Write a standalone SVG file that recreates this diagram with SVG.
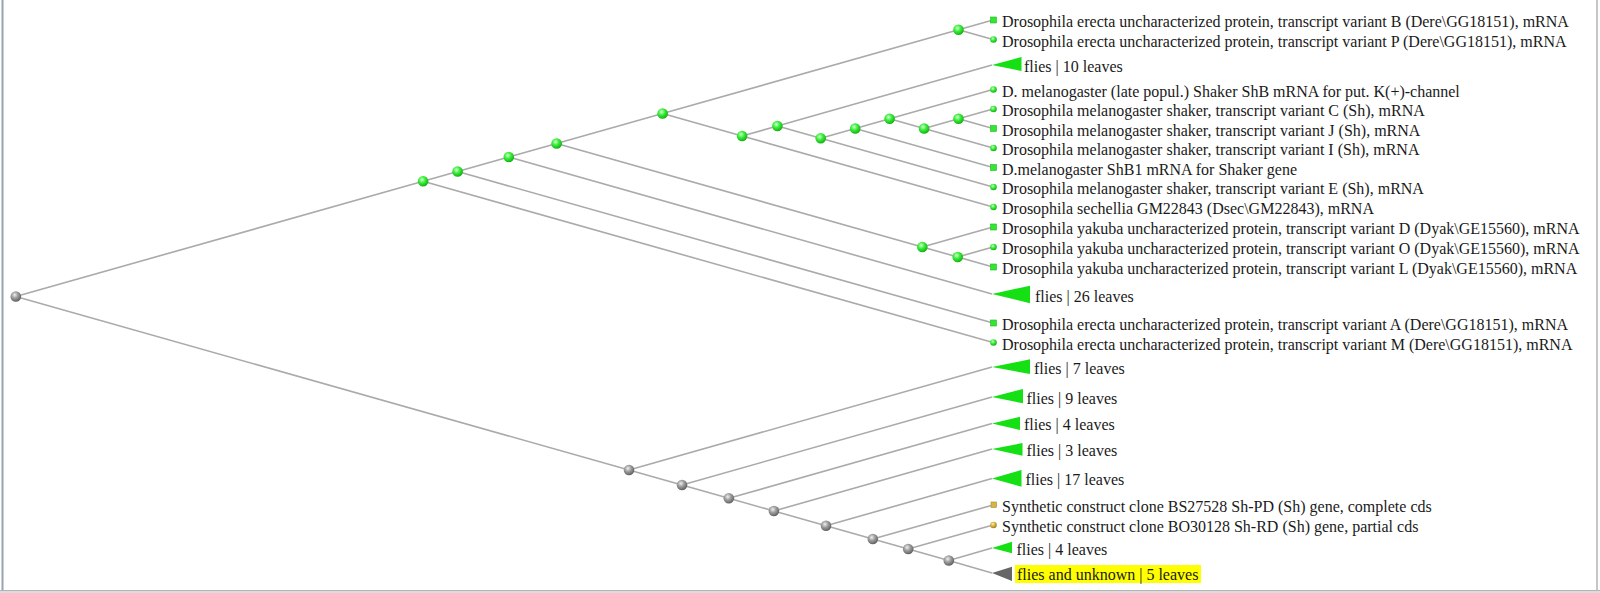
<svg xmlns="http://www.w3.org/2000/svg" width="1600" height="593" viewBox="0 0 1600 593">
<defs>
<radialGradient id="gg" cx="0.4" cy="0.35" r="0.65">
<stop offset="0" stop-color="#d8ffd8"/>
<stop offset="0.45" stop-color="#3cf03c"/>
<stop offset="1" stop-color="#12b012"/>
</radialGradient>
<radialGradient id="gk" cx="0.4" cy="0.35" r="0.65">
<stop offset="0" stop-color="#f0f0f0"/>
<stop offset="0.45" stop-color="#a0a0a0"/>
<stop offset="1" stop-color="#606060"/>
</radialGradient>
<radialGradient id="gt" cx="0.4" cy="0.35" r="0.65">
<stop offset="0" stop-color="#fff0b0"/>
<stop offset="0.5" stop-color="#d8b040"/>
<stop offset="1" stop-color="#a08020"/>
</radialGradient>
</defs>
<style>
.e{stroke:#aaaaaa;stroke-width:1.6;fill:none}
.ng{fill:url(#gg)}
.nk{fill:url(#gk)}
.lc{fill:url(#gg)}
.ls{fill:#33e633;stroke:#1fb81f;stroke-width:0.6}
.tc{fill:url(#gt)}
.ts{fill:#d6b446;stroke:#a88a2a;stroke-width:0.6}
.tri{fill:#14e014}
.trk{fill:#666666}
text{font-family:"Liberation Serif","Times New Roman",serif;font-size:16px;fill:#1a1a1a}
</style>
<rect x="0" y="0" width="1600" height="593" fill="#ffffff"/>
<rect x="1.5" y="0" width="2" height="591" fill="#9aa3b0"/>
<line x1="1597" y1="0" x2="1597" y2="591" stroke="#8c8c8c" stroke-width="1"/>
<rect x="0" y="590.5" width="1600" height="2.5" fill="#dcdcdc"/>
<line x1="0" y1="590.5" x2="1600" y2="590.5" stroke="#b4b4b4" stroke-width="1"/>

<g id="connectors">
<line class="e" x1="15.8" y1="296.5" x2="423.1" y2="181.3"/>
<line class="e" x1="15.8" y1="296.5" x2="629" y2="470"/>
<line class="e" x1="423.1" y1="181.3" x2="457.6" y2="171.5"/>
<line class="e" x1="423.1" y1="181.3" x2="993" y2="342.5"/>
<line class="e" x1="457.6" y1="171.5" x2="508.8" y2="157"/>
<line class="e" x1="457.6" y1="171.5" x2="993" y2="323"/>
<line class="e" x1="508.8" y1="157" x2="556.6" y2="143.5"/>
<line class="e" x1="508.8" y1="157" x2="992" y2="294"/>
<line class="e" x1="556.6" y1="143.5" x2="662.6" y2="113.5"/>
<line class="e" x1="556.6" y1="143.5" x2="922.3" y2="247"/>
<line class="e" x1="662.6" y1="113.5" x2="958.5" y2="29.8"/>
<line class="e" x1="662.6" y1="113.5" x2="742.1" y2="136"/>
<line class="e" x1="958.5" y1="29.8" x2="993" y2="20"/>
<line class="e" x1="958.5" y1="29.8" x2="993" y2="39.5"/>
<line class="e" x1="742.1" y1="136" x2="777.4" y2="126"/>
<line class="e" x1="742.1" y1="136" x2="993" y2="207"/>
<line class="e" x1="777.4" y1="126" x2="992" y2="65"/>
<line class="e" x1="777.4" y1="126" x2="820.7" y2="138.3"/>
<line class="e" x1="820.7" y1="138.3" x2="855.2" y2="128.5"/>
<line class="e" x1="820.7" y1="138.3" x2="993" y2="187"/>
<line class="e" x1="855.2" y1="128.5" x2="889.6" y2="118.8"/>
<line class="e" x1="855.2" y1="128.5" x2="993" y2="167.5"/>
<line class="e" x1="889.6" y1="118.8" x2="993" y2="89.5"/>
<line class="e" x1="889.6" y1="118.8" x2="924.1" y2="128.5"/>
<line class="e" x1="924.1" y1="128.5" x2="958.5" y2="118.8"/>
<line class="e" x1="924.1" y1="128.5" x2="993" y2="148"/>
<line class="e" x1="958.5" y1="118.8" x2="993" y2="109"/>
<line class="e" x1="958.5" y1="118.8" x2="993" y2="128.5"/>
<line class="e" x1="922.3" y1="247" x2="993" y2="227"/>
<line class="e" x1="922.3" y1="247" x2="957.7" y2="257"/>
<line class="e" x1="957.7" y1="257" x2="993" y2="247"/>
<line class="e" x1="957.7" y1="257" x2="993" y2="267"/>
<line class="e" x1="629" y1="470" x2="992" y2="367"/>
<line class="e" x1="629" y1="470" x2="682" y2="485"/>
<line class="e" x1="682" y1="485" x2="992" y2="397"/>
<line class="e" x1="682" y1="485" x2="728.8" y2="498.3"/>
<line class="e" x1="728.8" y1="498.3" x2="992" y2="423.5"/>
<line class="e" x1="728.8" y1="498.3" x2="773.9" y2="511"/>
<line class="e" x1="773.9" y1="511" x2="992" y2="449"/>
<line class="e" x1="773.9" y1="511" x2="826" y2="525.8"/>
<line class="e" x1="826" y1="525.8" x2="992" y2="478.5"/>
<line class="e" x1="826" y1="525.8" x2="872.8" y2="539"/>
<line class="e" x1="872.8" y1="539" x2="993" y2="505"/>
<line class="e" x1="872.8" y1="539" x2="908.2" y2="549"/>
<line class="e" x1="908.2" y1="549" x2="993" y2="525"/>
<line class="e" x1="908.2" y1="549" x2="948.8" y2="560.5"/>
<line class="e" x1="948.8" y1="560.5" x2="992" y2="548"/>
<line class="e" x1="948.8" y1="560.5" x2="992" y2="573"/>
</g>

<g id="node-root"><circle class="nk" cx="15.8" cy="296.5" r="5.3"/></g>
<g id="node-A"><circle class="ng" cx="423.1" cy="181.3" r="5.3"/></g>
<g id="node-B"><circle class="ng" cx="457.6" cy="171.5" r="5.3"/></g>
<g id="node-C"><circle class="ng" cx="508.8" cy="157" r="5.3"/></g>
<g id="node-D"><circle class="ng" cx="556.6" cy="143.5" r="5.3"/></g>
<g id="node-E"><circle class="ng" cx="662.6" cy="113.5" r="5.3"/></g>
<g id="node-F"><circle class="ng" cx="958.5" cy="29.8" r="5.3"/></g>
<g id="node-H"><circle class="ng" cx="742.1" cy="136" r="5.3"/></g>
<g id="node-J"><circle class="ng" cx="777.4" cy="126" r="5.3"/></g>
<g id="node-K"><circle class="ng" cx="820.7" cy="138.3" r="5.3"/></g>
<g id="node-L"><circle class="ng" cx="855.2" cy="128.5" r="5.3"/></g>
<g id="node-M"><circle class="ng" cx="889.6" cy="118.8" r="5.3"/></g>
<g id="node-N"><circle class="ng" cx="924.1" cy="128.5" r="5.3"/></g>
<g id="node-O"><circle class="ng" cx="958.5" cy="118.8" r="5.3"/></g>
<g id="node-Y1"><circle class="ng" cx="922.3" cy="247" r="5.3"/></g>
<g id="node-Y2"><circle class="ng" cx="957.7" cy="257" r="5.3"/></g>
<g id="node-G1"><circle class="nk" cx="629" cy="470" r="5.3"/></g>
<g id="node-G2"><circle class="nk" cx="682" cy="485" r="5.3"/></g>
<g id="node-G3"><circle class="nk" cx="728.8" cy="498.3" r="5.3"/></g>
<g id="node-G4"><circle class="nk" cx="773.9" cy="511" r="5.3"/></g>
<g id="node-G5"><circle class="nk" cx="826" cy="525.8" r="5.3"/></g>
<g id="node-G6"><circle class="nk" cx="872.8" cy="539" r="5.3"/></g>
<g id="node-G7"><circle class="nk" cx="908.2" cy="549" r="5.3"/></g>
<g id="node-G8"><circle class="nk" cx="948.8" cy="560.5" r="5.3"/></g>

<g id="leaf-1"><rect class="ls" x="990.5" y="17" width="6" height="6"/><text x="1002" y="27">Drosophila erecta uncharacterized protein, transcript variant B (Dere\GG18151), mRNA</text></g>
<g id="leaf-2"><circle class="lc" cx="993.5" cy="39.5" r="3.3"/><text x="1002" y="46.5">Drosophila erecta uncharacterized protein, transcript variant P (Dere\GG18151), mRNA</text></g>
<g id="leaf-3"><path class="tri" d="M992,65 L1021.5,57 L1021.5,71 Z"/><text x="1024" y="71.5">flies | 10 leaves</text></g>
<g id="leaf-4"><circle class="lc" cx="993.5" cy="89.5" r="3.3"/><text x="1002" y="96.5">D. melanogaster (late popul.) Shaker ShB mRNA for put. K(+)-channel</text></g>
<g id="leaf-5"><circle class="lc" cx="993.5" cy="109" r="3.3"/><text x="1002" y="116">Drosophila melanogaster shaker, transcript variant C (Sh), mRNA</text></g>
<g id="leaf-6"><rect class="ls" x="990.5" y="125.5" width="6" height="6"/><text x="1002" y="135.5">Drosophila melanogaster shaker, transcript variant J (Sh), mRNA</text></g>
<g id="leaf-7"><circle class="lc" cx="993.5" cy="148" r="3.3"/><text x="1002" y="155">Drosophila melanogaster shaker, transcript variant I (Sh), mRNA</text></g>
<g id="leaf-8"><rect class="ls" x="990.5" y="164.5" width="6" height="6"/><text x="1002" y="174.5">D.melanogaster ShB1 mRNA for Shaker gene</text></g>
<g id="leaf-9"><circle class="lc" cx="993.5" cy="187" r="3.3"/><text x="1002" y="194">Drosophila melanogaster shaker, transcript variant E (Sh), mRNA</text></g>
<g id="leaf-10"><circle class="lc" cx="993.5" cy="207" r="3.3"/><text x="1002" y="214">Drosophila sechellia GM22843 (Dsec\GM22843), mRNA</text></g>
<g id="leaf-11"><rect class="ls" x="990.5" y="224" width="6" height="6"/><text x="1002" y="234">Drosophila yakuba uncharacterized protein, transcript variant D (Dyak\GE15560), mRNA</text></g>
<g id="leaf-12"><circle class="lc" cx="993.5" cy="247" r="3.3"/><text x="1002" y="254">Drosophila yakuba uncharacterized protein, transcript variant O (Dyak\GE15560), mRNA</text></g>
<g id="leaf-13"><rect class="ls" x="990.5" y="264" width="6" height="6"/><text x="1002" y="274">Drosophila yakuba uncharacterized protein, transcript variant L (Dyak\GE15560), mRNA</text></g>
<g id="leaf-14"><path class="tri" d="M992,294 L1030,285.7 L1030,303.3 Z"/><text x="1035" y="301.5">flies | 26 leaves</text></g>
<g id="leaf-15"><rect class="ls" x="990.5" y="320" width="6" height="6"/><text x="1002" y="330">Drosophila erecta uncharacterized protein, transcript variant A (Dere\GG18151), mRNA</text></g>
<g id="leaf-16"><circle class="lc" cx="993.5" cy="342.5" r="3.3"/><text x="1002" y="349.5">Drosophila erecta uncharacterized protein, transcript variant M (Dere\GG18151), mRNA</text></g>
<g id="leaf-17"><path class="tri" d="M992,367 L1030,359.3 L1030,374 Z"/><text x="1034" y="373.5">flies | 7 leaves</text></g>
<g id="leaf-18"><path class="tri" d="M992,397 L1023,389 L1023,403.3 Z"/><text x="1026.5" y="403.5">flies | 9 leaves</text></g>
<g id="leaf-19"><path class="tri" d="M992,423.5 L1020,416.7 L1020,430 Z"/><text x="1024" y="430">flies | 4 leaves</text></g>
<g id="leaf-20"><path class="tri" d="M992,449 L1022.5,443 L1022.5,455.7 Z"/><text x="1026.5" y="455.5">flies | 3 leaves</text></g>
<g id="leaf-21"><path class="tri" d="M992,478.5 L1021.5,470 L1021.5,486.7 Z"/><text x="1025.5" y="485">flies | 17 leaves</text></g>
<g id="leaf-22"><rect class="ts" x="991" y="502" width="5.5" height="5.5"/><text x="1002" y="511.5">Synthetic construct clone BS27528 Sh-PD (Sh) gene, complete cds</text></g>
<g id="leaf-23"><circle class="tc" cx="993.5" cy="525" r="3.3"/><text x="1002" y="531.5">Synthetic construct clone BO30128 Sh-RD (Sh) gene, partial cds</text></g>
<g id="leaf-24"><path class="tri" d="M992,548 L1012,541.7 L1012,553.3 Z"/><text x="1016.5" y="554.5">flies | 4 leaves</text></g>
<g id="leaf-25"><path class="trk" d="M992,573 L1012,566.7 L1012,581 Z"/><rect x="1015" y="565" width="186" height="18" fill="#ffff00"/><text x="1017" y="580">flies and unknown | 5 leaves</text></g>
</svg>
